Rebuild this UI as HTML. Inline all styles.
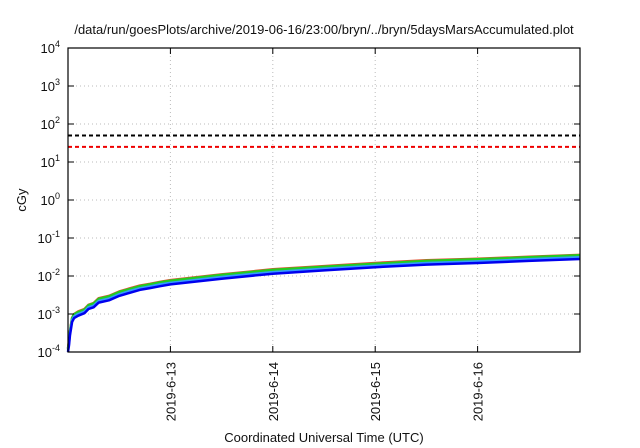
<!DOCTYPE html>
<html><head><meta charset="utf-8"><style>
body{margin:0;background:#fff;}
svg{display:block;font-family:"Liberation Sans",sans-serif;}
</style></head><body>
<svg width="640" height="448" viewBox="0 0 640 448">
<rect width="640" height="448" fill="#fff"/>
<text x="324" y="34" font-size="13" text-anchor="middle" fill="#111">/data/run/goesPlots/archive/2019-06-16/23:00/bryn/../bryn/5daysMarsAccumulated.plot</text>
<g id="grid"></g>
<g id="series"></g>
<g id="axes"></g>
<text x="26" y="200" font-size="13" text-anchor="middle" transform="rotate(-90 26 200)" fill="#111">cGy</text>
<text x="324" y="442" font-size="13" text-anchor="middle" fill="#111">Coordinated Universal Time (UTC)</text>
</svg>
<script>
const times=[12.0,12.01,12.02,12.04,12.06,12.1,12.16,12.2,12.25,12.3,12.4,12.5,12.6,12.7,12.8,12.9,13,13.5,14,14.5,15,15.5,16,16.5,17];
const blueVals=[1e-4,1.5e-4,2.8e-4,6.2e-4,7.8e-4,9e-4,1.05e-3,1.35e-3,1.5e-3,2e-3,2.3e-3,3e-3,3.6e-3,4.3e-3,4.8e-3,5.4e-3,6e-3,8.5e-3,1.15e-2,1.4e-2,1.7e-2,2.0e-2,2.2e-2,2.5e-2,2.8e-2];
const lightBlueVals=[1.1e-4,1.7e-4,3.1e-4,6.9e-4,8.6e-4,1e-3,1.16e-3,1.5e-3,1.65e-3,2.2e-3,2.55e-3,3.3e-3,4e-3,4.75e-3,5.3e-3,6e-3,6.6e-3,9.4e-3,1.27e-2,1.55e-2,1.87e-2,2.2e-2,2.42e-2,2.75e-2,3.1e-2];
const greenVals=[1.2e-4,1.9e-4,3.5e-4,7.8e-4,9.8e-4,1.13e-3,1.3e-3,1.7e-3,1.9e-3,2.5e-3,2.9e-3,3.8e-3,4.5e-3,5.4e-3,6e-3,6.8e-3,7.5e-3,1.07e-2,1.45e-2,1.76e-2,2.1e-2,2.5e-2,2.75e-2,3.1e-2,3.5e-2];
const redVals=[1.25e-4,2e-4,3.6e-4,8e-4,1e-3,1.17e-3,1.35e-3,1.75e-3,1.95e-3,2.6e-3,3e-3,3.9e-3,4.7e-3,5.6e-3,6.2e-3,7e-3,7.8e-3,1.1e-2,1.5e-2,1.82e-2,2.2e-2,2.6e-2,2.85e-2,3.2e-2,3.6e-2];
const thresholds=[50,25];
const yExps=[-4,-3,-2,-1,0,1,2,3,4];
const xTicks=[13,14,15,16];
const xTickLabels=["2019-6-13","2019-6-14","2019-6-15","2019-6-16"];
const L=68,R=580,T=48,B=352,X0=12,X1=17,E0=-4,E1=4;
const NS="http://www.w3.org/2000/svg";
function sx(t){return L+(t-X0)/(X1-X0)*(R-L);}
function sy(v){return B-(Math.log10(v)-E0)/(E1-E0)*(B-T);}
function mk(tag,attrs,parent){const e=document.createElementNS(NS,tag);for(const k in attrs)e.setAttribute(k,attrs[k]);parent.appendChild(e);return e;}
const grid=document.getElementById('grid'),axes=document.getElementById('axes'),series=document.getElementById('series');
yExps.forEach(e=>{const y=sy(Math.pow(10,e));
 if(e>E0&&e<E1){const g=mk('line',{x1:L,x2:R,y1:y,y2:y,stroke:'#bbb','stroke-dasharray':'1,3'},grid);
 
 }
 const t1=mk('line',{x1:L,x2:L+6,y1:y,y2:y,stroke:'#000'},axes);
 
 
 mk('line',{x1:R,x2:R-6,y1:y,y2:y,stroke:'#000'},axes);
 const tx=mk('text',{x:L-8,y:y+5,'font-size':13,'text-anchor':'end',fill:'#111'},axes);
 
 
 tx.textContent='10';const s=mk('tspan',{dy:-6,'font-size':9},tx);s.textContent=String(e);
});
xTicks.forEach((t,i)=>{const x=sx(t);
 const g=mk('line',{x1:x,x2:x,y1:T,y2:B,stroke:'#bbb','stroke-dasharray':'1,3'},grid);
 
 
 mk('line',{x1:x,x2:x,y1:B,y2:B-6,stroke:'#000'},axes);
 mk('line',{x1:x,x2:x,y1:T,y2:T+6,stroke:'#000'},axes);
 const tx=mk('text',{x:x+5,y:B+10,'font-size':13,'text-anchor':'end',fill:'#111',transform:`rotate(-90 ${x+5} ${B+10})`},axes);
 
 
 tx.textContent=xTickLabels[i];
});
const frame=mk('rect',{x:L,y:T,width:R-L,height:B-T,fill:'none',stroke:'#000','stroke-width':1.2},axes);


const thrColors=['#000','#e00'];
thresholds.forEach((v,i)=>{const y=sy(v);
 const l=mk('line',{x1:L,x2:R,y1:y,y2:y,stroke:thrColors[i],'stroke-width':2,'stroke-dasharray':'4,3'},series);
 
 
});
const sets=[[redVals,'#e05030','series-red'],[greenVals,'#22cc22','series-green'],[lightBlueVals,'#3399ff','series-light-blue'],[blueVals,'#0000ee','series-blue']];
sets.forEach(([vals,c,n])=>{
 const pts=times.map((t,i)=>sx(t).toFixed(1)+','+sy(vals[i]).toFixed(1)).join(' ');
 const p=mk('polyline',{points:pts,fill:'none',stroke:c,'stroke-width':2.5,'stroke-linejoin':'round'},series);
 
 
});
</script>
</body></html>
